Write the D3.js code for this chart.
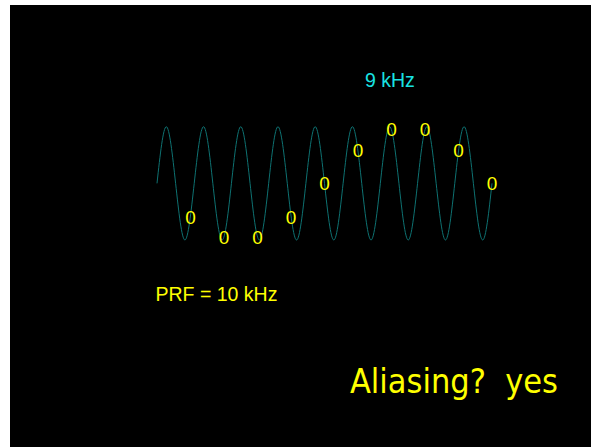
<!DOCTYPE html>
<html>
<head>
<meta charset="utf-8">
<script src="https://cdn.jsdelivr.net/npm/d3@7"></script>
<style>
  html, body { margin: 0; padding: 0; background: #ffffff; }
  svg { display: block; }
  text { white-space: pre; }
</style>
</head>
<body>
<svg id="chart" width="602" height="447"></svg>
<script>
// ---- data ----
// 9 kHz signal over 1 ms: value at each quarter period (t in ms)
const waveValues = [0, 1, 0, -1, 0, 1, 0, -1, 0, 1, 0, -1, 0, 1, 0, -1, 0, 1, 0, -1,
                    0, 1, 0, -1, 0, 1, 0, -1, 0, 1, 0, -1, 0, 1, 0, -1, 0];
const waveTimes = waveValues.map((_, i) => i / 36);
// samples taken at PRF = 10 kHz (every 0.1 ms)
const sampleTimes = [0.1, 0.2, 0.3, 0.4, 0.5, 0.6, 0.7, 0.8, 0.9, 1.0];
const sampleValues = [-0.59, -0.95, -0.95, -0.59, 0, 0.59, 0.95, 0.95, 0.59, 0];
const sampleLabel = "0";
const signalLabel = "9 kHz";
const prfLabel = "PRF = 10 kHz";
const questionLabel = "Aliasing?  yes";

// ---- drawing ----
const svg = d3.select("#chart");
svg.append("rect").attr("x", 10).attr("y", 5).attr("width", 581).attr("height", 442).attr("fill", "#000");

const x = d3.scaleLinear().domain([0, 1]).range([157, 492]);
const y = d3.scaleLinear().domain([-1, 1]).range([240, 126.7]);

const line = d3.line()
  .x((d, i) => x(waveTimes[i]))
  .y(d => y(d))
  .curve(d3.curveNatural);

svg.append("path")
  .datum(waveValues)
  .attr("d", line)
  .attr("fill", "none")
  .attr("stroke", "#0e7272")
  .attr("stroke-width", 1);

svg.selectAll("text.sample")
  .data(sampleValues)
  .join("text")
  .attr("class", "sample")
  .attr("x", (d, i) => x(sampleTimes[i]))
  .attr("y", d => y(d) + 6.8)
  .attr("text-anchor", "middle")
  .attr("font-family", "Liberation Sans, Arial, sans-serif")
  .attr("font-size", 19)
  .attr("fill", "#ffff00")
  .text(sampleLabel);

svg.append("text")
  .attr("x", 365).attr("y", 87.3)
  .attr("font-family", "Liberation Sans, Arial, sans-serif")
  .attr("font-size", 19.5)
  .attr("fill", "#19e3e3")
  .text(signalLabel);

svg.append("text")
  .attr("x", 155.5).attr("y", 300.7)
  .attr("font-family", "Liberation Sans, Arial, sans-serif")
  .attr("font-size", 19.5)
  .attr("fill", "#ffff00")
  .text(prfLabel);

svg.append("text")
  .attr("x", 350).attr("y", 393.3)
  .attr("font-family", "DejaVu Sans Condensed, DejaVu Sans, sans-serif")
  .attr("font-stretch", "condensed")
  .attr("font-size", 34)
  .attr("textLength", 208)
  .attr("lengthAdjust", "spacingAndGlyphs")
  .attr("fill", "#ffff00")
  .text(questionLabel);
</script>
</body>
</html>
